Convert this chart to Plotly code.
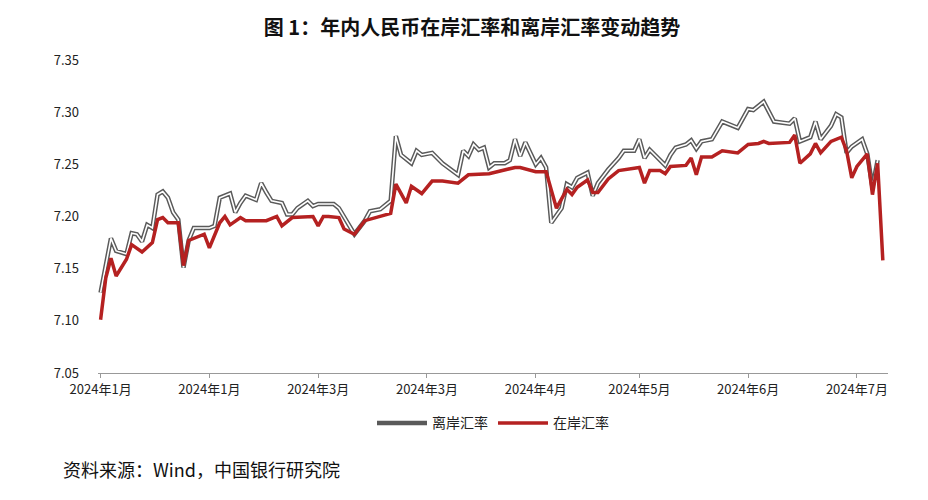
import plotly.graph_objects as go

# trading-day index and rates
offshore_day = [0, 1, 2, 3, 5, 6, 7, 8, 9, 10, 11, 12, 13, 14, 15, 16, 17, 18, 21, 22, 23, 25, 26, 27, 28,
                30, 31, 32, 33, 35, 36, 37, 38, 40, 41, 42, 45, 46, 47, 49, 51, 52, 54, 56, 57, 58, 60, 61,
                62, 64, 66, 69, 70, 71, 72, 73, 74, 75, 76, 78, 79, 80, 81, 82, 84, 85, 86, 87, 89, 90, 91,
                92, 94, 95, 96, 98, 100, 101, 103, 104, 105, 106, 109, 110, 111, 113, 114, 115, 116, 118,
                120, 123, 125, 126, 128, 130, 133, 134, 135, 137, 138, 139, 141, 142, 143, 144, 145, 147,
                148, 149, 150]
offshore = [7.127, 7.154, 7.179, 7.167, 7.164, 7.184, 7.183, 7.176, 7.192, 7.189, 7.221, 7.224, 7.218,
            7.204, 7.197, 7.151, 7.177, 7.189, 7.189, 7.191, 7.218, 7.222, 7.204, 7.213, 7.220, 7.216,
            7.232, 7.223, 7.215, 7.213, 7.202, 7.202, 7.208, 7.215, 7.210, 7.212, 7.212, 7.208, 7.200,
            7.183, 7.196, 7.205, 7.207, 7.215, 7.277, 7.259, 7.251, 7.263, 7.259, 7.261, 7.251, 7.240,
            7.263, 7.258, 7.269, 7.264, 7.266, 7.247, 7.251, 7.251, 7.254, 7.274, 7.258, 7.271, 7.250,
            7.256, 7.247, 7.194, 7.208, 7.231, 7.228, 7.237, 7.242, 7.220, 7.232, 7.245, 7.256, 7.263,
            7.263, 7.274, 7.256, 7.264, 7.249, 7.259, 7.266, 7.269, 7.273, 7.265, 7.272, 7.274, 7.291,
            7.285, 7.303, 7.302, 7.310, 7.291, 7.289, 7.294, 7.272, 7.276, 7.291, 7.274, 7.287, 7.298,
            7.295, 7.261, 7.267, 7.274, 7.260, 7.228, 7.254]

onshore_day = [0, 1, 2, 3, 5, 6, 8, 10, 11, 12, 13, 15, 16, 17, 20, 21, 23, 24, 25, 27, 28, 32, 34, 35,
               37, 41, 42, 43, 44, 46, 47, 49, 51, 53, 56, 57, 59, 60, 62, 64, 66, 69, 71, 75, 78, 80,
               81, 84, 86, 88, 90, 91, 92, 94, 95, 96, 98, 100, 104, 105, 106, 108, 109, 110, 113, 114,
               115, 116, 118, 120, 123, 125, 127, 128, 129, 133, 134, 135, 137, 138, 139, 141, 143, 144,
               145, 146, 148, 149, 150, 151]
onshore = [7.101, 7.141, 7.160, 7.143, 7.159, 7.173, 7.166, 7.175, 7.197, 7.199, 7.194, 7.194, 7.153,
           7.177, 7.183, 7.170, 7.194, 7.200, 7.192, 7.199, 7.196, 7.196, 7.200, 7.191, 7.199, 7.200,
           7.191, 7.200, 7.200, 7.199, 7.188, 7.183, 7.196, 7.199, 7.203, 7.231, 7.213, 7.229, 7.222,
           7.234, 7.234, 7.232, 7.240, 7.241, 7.245, 7.247, 7.247, 7.243, 7.243, 7.208, 7.226, 7.221,
           7.228, 7.235, 7.223, 7.223, 7.236, 7.244, 7.247, 7.232, 7.244, 7.244, 7.241, 7.248, 7.249,
           7.256, 7.240, 7.257, 7.257, 7.263, 7.261, 7.269, 7.270, 7.272, 7.270, 7.271, 7.278, 7.251,
           7.260, 7.270, 7.261, 7.272, 7.276, 7.263, 7.237, 7.248, 7.260, 7.221, 7.251, 7.158]

tick_days = [0, 21, 42, 63, 84, 104, 125, 146]
tick_text = ["2024年1月", "2024年1月", "2024年3月", "2024年3月",
             "2024年4月", "2024年5月", "2024年6月", "2024年7月"]

font = "Noto Sans CJK SC"
fig = go.Figure()

# offshore drawn as a hollow double line: grey outline + white core
fig.add_trace(go.Scatter(x=offshore_day, y=offshore, mode="lines", name="离岸汇率",
                         line=dict(color="#5a5a5a", width=4.5)))
fig.add_trace(go.Scatter(x=offshore_day, y=offshore, mode="lines", showlegend=False,
                         hoverinfo="skip", line=dict(color="white", width=1.6)))
fig.add_trace(go.Scatter(x=onshore_day, y=onshore, mode="lines", name="在岸汇率",
                         line=dict(color="#b52121", width=3.5)))

fig.update_xaxes(range=[-0.5, 152], tickvals=tick_days, ticktext=tick_text,
                 showline=True, linecolor="#999", ticks="outside", ticklen=4, tickcolor="#999",
                 showgrid=False, zeroline=False, tickfont=dict(size=13, color="#222"))
fig.update_yaxes(range=[7.05, 7.35], dtick=0.05, tickformat=".2f", showgrid=False,
                 zeroline=False, showline=False, ticklabelstandoff=18,
                 tickfont=dict(size=13, color="#222"))

fig.update_layout(
    width=928, height=500,
    margin=dict(l=90, r=48, t=52, b=135),
    plot_bgcolor="white", paper_bgcolor="white",
    font=dict(family=font, color="#222"),
    title=dict(text="<b>图 1：年内人民币在岸汇率和离岸汇率变动趋势</b>", x=0.5, xanchor="center",
               y=0.975, yanchor="top", font=dict(size=20, color="#111")),
    legend=dict(orientation="h", x=0.5, xanchor="center", y=-0.11, yanchor="top",
                font=dict(size=14), itemwidth=50),
    annotations=[dict(text="资料来源：Wind，中国银行研究院", xref="paper", yref="paper",
                      x=-0.047, y=-0.26, xanchor="left", yanchor="top", showarrow=False,
                      font=dict(size=18, color="#111"))],
)

fig.write_html("out.html")
